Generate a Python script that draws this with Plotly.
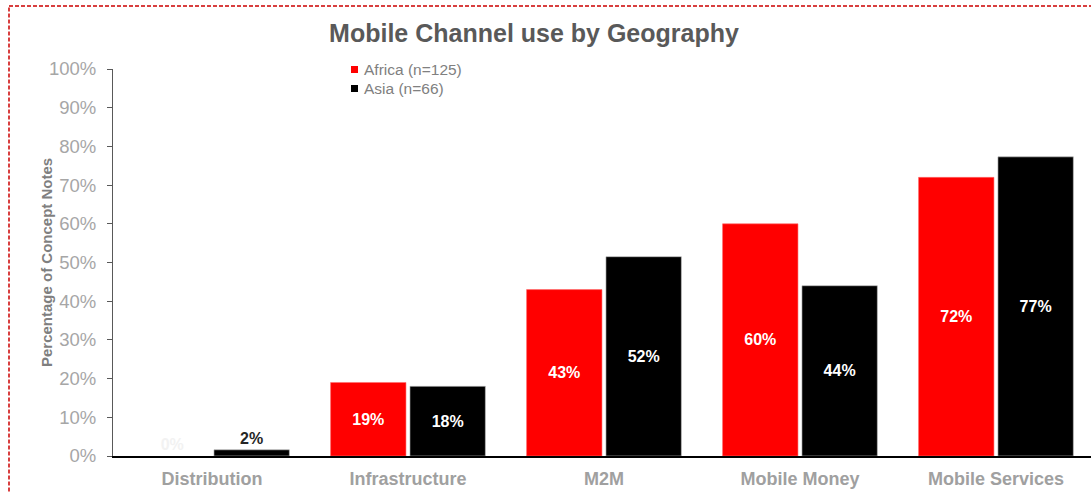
import plotly.graph_objects as go

# Share of concept notes using each mobile channel, by region
categories = ["Distribution", "Infrastructure", "M2M", "Mobile Money", "Mobile Services"]
africa = [0.0, 0.19, 0.43, 0.60, 0.72]
asia = [0.016, 0.18, 0.515, 0.44, 0.773]
y_ticks = [0, 0.1, 0.2, 0.3, 0.4, 0.5, 0.6, 0.7, 0.8, 0.9, 1.0]
series_names = ["Africa (n=125)", "Asia (n=66)"]
series_colors = ["#ff0000", "#000000"]

FONT = "Liberation Sans, Arial, sans-serif"
W, H = 1091, 493
L, R, T, B = 113, 0, 69, 37
plot_w = W - L - R
plot_h = H - T - B


def px_x(p):
    return (p - L) / plot_w


def px_y(p):
    return (H - B - p) / plot_h


def positions(vals):
    return ["inside" if v >= 0.05 else "outside" for v in vals]


def label_colors(vals, outside_color):
    return ["white" if v >= 0.05 else outside_color for v in vals]


fig = go.Figure()
for name, vals, color, edge, out_color in [
    (series_names[0], africa, series_colors[0], "#ff6b6b", "#f2f2f2"),
    (series_names[1], asia, series_colors[1], "#bfbfbf", "#262626"),
]:
    fig.add_trace(go.Bar(
        name=name, x=categories, y=vals,
        marker=dict(color=color, line=dict(color=edge, width=[0 if v == 0 else 0.6 for v in vals])),
        texttemplate="<b>%{y:.0%}</b>", textposition=positions(vals),
        insidetextanchor="middle",
        textfont=dict(family=FONT, size=16, color=label_colors(vals, out_color)),
        cliponaxis=False, showlegend=False,
    ))

# Legend keys: small coloured squares with grey labels
for i, (name, color) in enumerate(zip(series_names, series_colors)):
    top = 66 + 19 * i
    fig.add_shape(type="rect", xref="paper", yref="paper",
                  x0=px_x(351), x1=px_x(358), y0=px_y(top + 7), y1=px_y(top),
                  fillcolor=color, line=dict(width=0))
    fig.add_annotation(text=name, xref="paper", yref="paper",
                       x=px_x(362), y=px_y(top + 3.5), xanchor="left", yanchor="middle",
                       showarrow=False,
                       font=dict(family=FONT, size=15.5, color="#808080"))

# Dashed red frame around the chart object
frame_x = px_x(9)
frame_top = px_y(6)
frame_line = dict(color="#cc0000", width=1.5, dash="4px,2px")
fig.add_shape(type="line", xref="paper", yref="paper",
              x0=frame_x, x1=frame_x, y0=-0.2, y1=frame_top, line=frame_line)
fig.add_shape(type="line", xref="paper", yref="paper",
              x0=frame_x, x1=1.05, y0=frame_top, y1=frame_top, line=frame_line)

# Y axis title placed beside the tick labels
fig.add_annotation(
    text="<b>Percentage of Concept Notes</b>", xref="paper", yref="paper",
    x=px_x(36), y=0.5, textangle=-90, showarrow=False,
    font=dict(family=FONT, size=15, color="#7f7f7f"),
)

fig.update_layout(
    width=W, height=H,
    margin=dict(l=L, r=R, t=T, b=B),
    paper_bgcolor="white", plot_bgcolor="white",
    barmode="group", bargap=0.19, bargroupgap=0.05,
    showlegend=False,
    title=dict(text="<b>Mobile Channel use by Geography</b>",
               x=534 / W, xanchor="center", y=1 - 33 / H, yanchor="middle",
               font=dict(family=FONT, size=25, color="#595959")),
    xaxis=dict(range=[-0.505, 4.485], showgrid=False, zeroline=False,
               showline=True, linecolor="#000000", linewidth=1.5,
               ticks="", tickfont=dict(family=FONT, size=18, color="#a0a0a0"),
               tickprefix="<b>", ticksuffix="</b>", ticklabelstandoff=6),
    yaxis=dict(range=[0, 1.0], tickvals=y_ticks, tickformat=".0%",
               showgrid=False, zeroline=False,
               showline=True, linecolor="#595959", linewidth=1,
               ticks="outside", ticklen=5, tickcolor="#595959",
               ticklabelstandoff=7,
               tickfont=dict(family=FONT, size=18.5, color="#a6a6a6")),
)

fig.write_html("out.html")
